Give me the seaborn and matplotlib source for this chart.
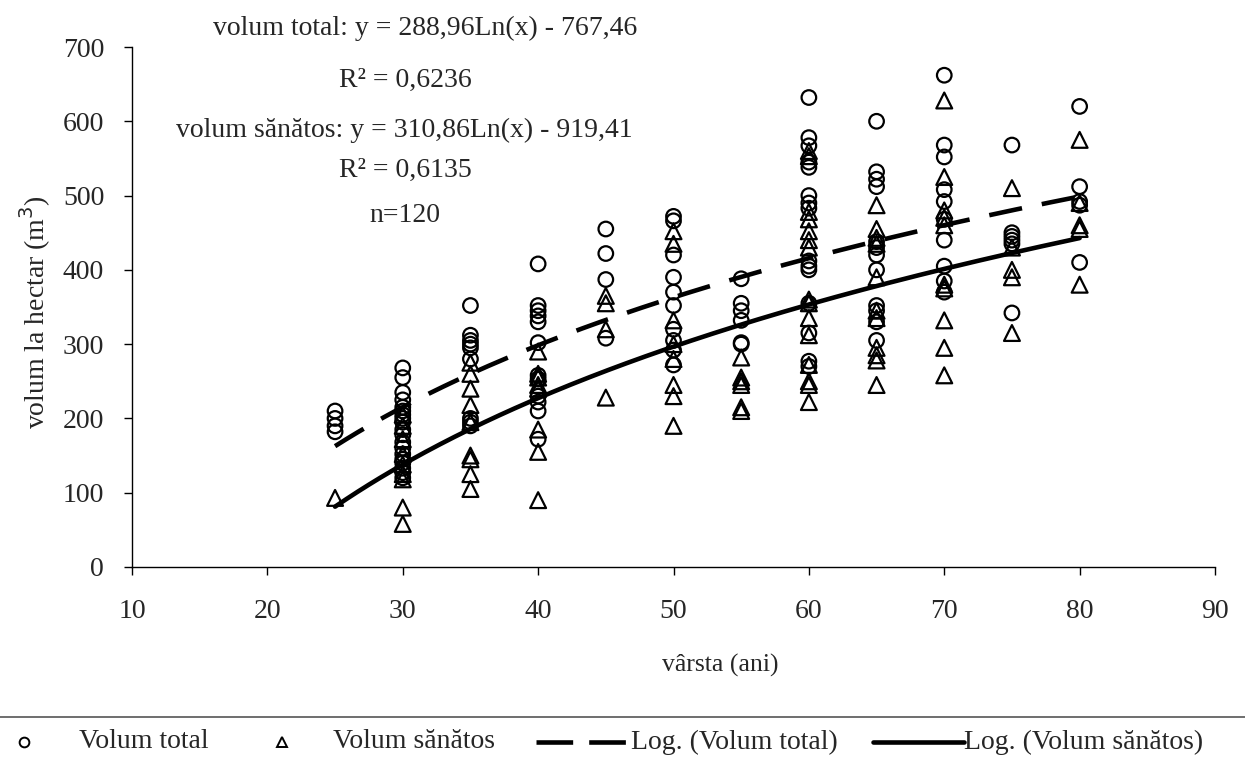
import numpy as np
import pandas as pd
import matplotlib
matplotlib.use("Agg")
import matplotlib.pyplot as plt
from matplotlib.lines import Line2D
import seaborn as sns

# ---- data ----
total_ages = ([25] * 4 + [30] * 19 + [35] * 9 + [40] * 12 + [45] * 4 + [50] * 10 +
              [55] * 6 + [60] * 15 + [65] * 12 + [70] * 10 + [75] * 6 + [80] * 5)
total_vals = [210, 200, 190, 182,
              268, 255, 235, 225, 215, 210, 205, 200, 195, 185, 178, 168, 160, 152, 145, 140, 133, 127, 120,
              352, 312, 305, 300, 295, 280, 200, 195, 190,
              408, 352, 345, 338, 330, 302, 258, 253, 230, 222, 210, 172,
              455, 422, 387, 308,
              472, 466, 420, 390, 370, 352, 320, 305, 292, 272,
              388, 355, 345, 332, 302, 300,
              632, 578, 567, 545, 538, 500, 490, 483, 412, 405, 400, 355, 315, 277, 270,
              600, 532, 522, 512, 438, 430, 420, 400, 352, 345, 330, 305,
              662, 568, 552, 508, 492, 468, 440, 405, 385, 370,
              568, 450, 445, 440, 435, 342,
              620, 512, 492, 487, 410]

healthy_ages = ([25] * 1 + [30] * 9 + [35] * 9 + [40] * 8 + [45] * 4 + [50] * 8 +
                [55] * 6 + [60] * 15 + [65] * 11 + [70] * 10 + [75] * 5 + [80] * 5)
healthy_vals = [93,
                205, 190, 172, 152, 138, 125, 118, 80, 58,
                275, 260, 240, 218, 195, 150, 145, 125, 105,
                290, 260, 255, 245, 240, 185, 155, 90,
                365, 355, 320, 228,
                452, 435, 332, 300, 280, 245, 230, 190,
                282, 255, 250, 245, 215, 210,
                560, 553, 478, 468, 452, 440, 430, 360, 355, 335, 312, 272, 250, 245, 222,
                487, 455, 443, 435, 390, 345, 335, 295, 285, 278, 245,
                628, 525, 480, 470, 460, 380, 375, 332, 295, 258,
                510, 430, 400, 390, 315,
                575, 490, 460, 455, 380]

# logarithmic trend coefficients (from the chart's equations)
series_names = ["Volum total", "Volum sănătos"]
trend_names = ["Log. (Volum total)", "Log. (Volum sănătos)"]
trend_slope = [288.96, 310.86]
trend_intercept = [-767.46, -919.41]
trend_range = [25, 80]

x_ticks = [10, 20, 30, 40, 50, 60, 70, 80, 90]
y_ticks = [0, 100, 200, 300, 400, 500, 600, 700]

annot_lines = ["volum total: y = 288,96Ln(x) - 767,46",
               "R² = 0,6236",
               "volum sănătos: y = 310,86Ln(x) - 919,41",
               "R² = 0,6135",
               "n=120"]

# ---- styling ----
sns.set_theme(style="ticks")
plt.rcParams["font.family"] = ["Liberation Serif", "DejaVu Serif"]
plt.rcParams["font.size"] = 19

LW = 3.3
DASH = [7.3, 4.4]

W, H = 1245, 767
fig = plt.figure(figsize=(W / 100, H / 100), dpi=100)
ax = fig.add_axes([132 / W, 1 - 567 / H, (1215 - 132) / W, (567 - 47) / H])

df_t = pd.DataFrame({"x": total_ages, "y": total_vals})
df_h = pd.DataFrame({"x": healthy_ages, "y": healthy_vals})

# trend lines
xs = np.linspace(trend_range[0], trend_range[1], 200)
tr_total = pd.DataFrame({"x": xs, "y": trend_slope[0] * np.log(xs) + trend_intercept[0]})
tr_health = pd.DataFrame({"x": xs, "y": trend_slope[1] * np.log(xs) + trend_intercept[1]})
sns.lineplot(data=tr_total, x="x", y="y", ax=ax, color="black", linewidth=LW, zorder=2)
ax.lines[-1].set_dashes(DASH)
sns.lineplot(data=tr_health, x="x", y="y", ax=ax, color="black", linewidth=LW, zorder=2)

sns.scatterplot(data=df_t, x="x", y="y", ax=ax, marker="o", s=110,
                facecolor="none", edgecolor="black", linewidth=1.6, zorder=3)
sns.scatterplot(data=df_h, x="x", y="y", ax=ax, marker="^", s=130,
                facecolor="none", edgecolor="black", linewidth=1.6, zorder=3)

ax.set_xlim(10, 90)
ax.set_ylim(0, 700)
ax.set_xticks(x_ticks)
ax.set_yticks(y_ticks)
ax.tick_params(axis="x", labelsize=20, length=6, width=1, color="black", pad=17)
ax.tick_params(axis="y", labelsize=20, length=6, width=1, color="black", pad=14)
for s in ["top", "right"]:
    ax.spines[s].set_visible(False)
for s in ["left", "bottom"]:
    ax.spines[s].set_color("black")
    ax.spines[s].set_linewidth(1)
ax.set_xlabel("")
ax.set_ylabel("")
fig.text(720 / W, 1 - 665 / H, "vârsta (ani)", ha="center", va="center", fontsize=18.5)
fig.text(35 / W, 1 - 312 / H, "volum la hectar (m$^3$)", ha="center", va="center",
         rotation=90, fontsize=20)

# annotation block
ann_y = [28, 80, 130, 170, 215]
ann_x = [425, 405, 404, 405, 405]
for t, xp, yp in zip(annot_lines, ann_x, ann_y):
    fig.text(xp / W, 1 - yp / H, t, ha="center", va="center", fontsize=20)

# legend (laid out across the full width, as in the original)
ly = 1 - 742 / H
fs_leg = 20
fig.add_artist(Line2D([24 / W], [ly], marker="o", linestyle="none", markerfacecolor="none",
                      markeredgecolor="black", markersize=7, markeredgewidth=1.4,
                      transform=fig.transFigure))
fig.text(79 / W, ly, series_names[0], ha="left", va="center", fontsize=fs_leg)
fig.add_artist(Line2D([282 / W], [ly], marker="^", linestyle="none", markerfacecolor="none",
                      markeredgecolor="black", markersize=7, markeredgewidth=1.4,
                      transform=fig.transFigure))
fig.text(333 / W, ly, series_names[1], ha="left", va="center", fontsize=fs_leg)
dl = Line2D([536 / W, 627 / W], [ly, ly], color="black", linewidth=LW,
            transform=fig.transFigure)
dl.set_dashes([8, 3.5])
fig.add_artist(dl)
fig.text(631 / W, ly, trend_names[0], ha="left", va="center", fontsize=fs_leg)
fig.add_artist(Line2D([873 / W, 964 / W], [ly, ly], color="black", linewidth=LW,
                      transform=fig.transFigure))
fig.text(964 / W, ly, trend_names[1], ha="left", va="center", fontsize=fs_leg)
fig.add_artist(Line2D([0, 1], [1 - 717 / H, 1 - 717 / H], transform=fig.transFigure,
                      color="#555555", linewidth=1.2))

fig.savefig("out.png", dpi=100)
